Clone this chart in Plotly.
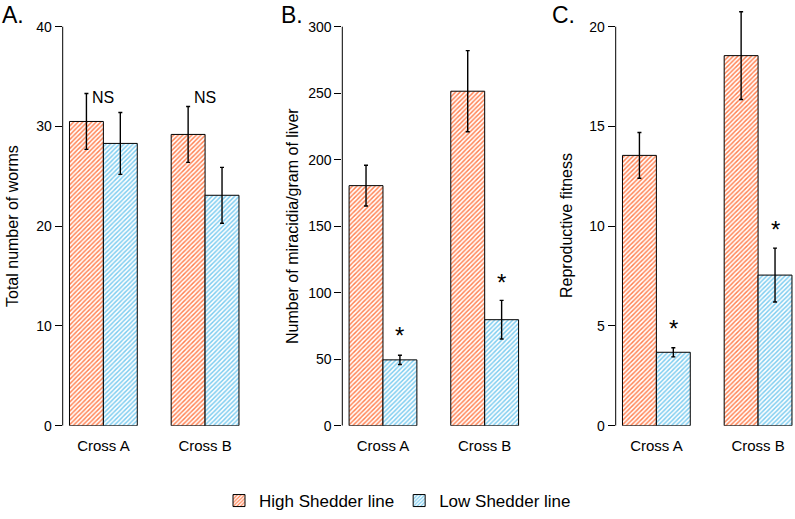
import plotly.graph_objects as go

# data
crosses = ["Cross A", "Cross B"]
worms_high = [30.5, 29.2]
worms_high_err = [2.8, 2.8]
worms_low = [28.3, 23.1]
worms_low_err = [3.1, 2.8]
mira_high = [180.5, 251.5]
mira_high_err = [15.3, 30.5]
mira_low = [49.5, 79.7]
mira_low_err = [3.5, 14.5]
fit_high = [13.55, 18.55]
fit_high_err = [1.15, 2.2]
fit_low = [3.68, 7.55]
fit_low_err = [0.23, 1.35]
worms_marks = ["NS", "NS"]
mira_marks = ["*", "*"]
fit_marks = ["*", "*"]

FONT = "Liberation Sans, Arial, sans-serif"
ORANGE = "#FF7F4F"
BLUE = "#7ACBEF"
W, H = 795, 519

panels = [
    dict(high=worms_high, high_err=worms_high_err, low=worms_low, low_err=worms_low_err,
         marks=worms_marks, mark_y=[32.9, 32.9], mark_on="group", ymax=40, dtick=10,
         title="Total number of worms", letter="A.", ax_px=62.7, right_px=246.3,
         title_px=13, letter_px=0),
    dict(high=mira_high, high_err=mira_high_err, low=mira_low, low_err=mira_low_err,
         marks=mira_marks, mark_y=[68, 108], mark_on="low", ymax=300, dtick=50,
         title="Number of miracidia/gram of liver", letter="B.", ax_px=342.3, right_px=525.4,
         title_px=293, letter_px=279),
    dict(high=fit_high, high_err=fit_high_err, low=fit_low, low_err=fit_low_err,
         marks=fit_marks, mark_y=[4.85, 9.85], mark_on="low", ymax=20, dtick=5,
         title="Reproductive fitness", letter="C.", ax_px=615.7, right_px=795,
         title_px=567, letter_px=550),
]

unit = 33.9  # px per bar width
y_top_px, y_zero_px = 26.7, 425.7

fig = go.Figure()
layout = dict()
annotations = []
shapes = []

for i, p in enumerate(panels):
    n = "" if i == 0 else str(i + 1)
    xa, ya = "x" + n, "y" + n
    first = i == 0
    fig.add_trace(go.Bar(
        x=crosses, y=p["high"], name="High Shedder line", xaxis=xa, yaxis=ya,
        legendgroup="high", showlegend=first,
        marker=dict(color="white", line=dict(color="black", width=1),
                    pattern=dict(shape="/", fgcolor=ORANGE, bgcolor="white",
                                 size=3.2, solidity=0.45, fillmode="replace")),
        error_y=dict(type="data", array=p["high_err"], color="black", thickness=1.4, width=2),
    ))
    fig.add_trace(go.Bar(
        x=crosses, y=p["low"], name="Low Shedder line", xaxis=xa, yaxis=ya,
        legendgroup="low", showlegend=first,
        marker=dict(color="white", line=dict(color="black", width=1),
                    pattern=dict(shape="/", fgcolor=BLUE, bgcolor="white",
                                 size=3.2, solidity=0.45, fillmode="replace")),
        error_y=dict(type="data", array=p["low_err"], color="black", thickness=1.4, width=2),
    ))

    px_per_val = (y_zero_px - y_top_px) / p["ymax"]
    y_range_top = p["ymax"] + (y_top_px - 10.7) / px_per_val
    x_left = -0.4
    x_right = x_left + (p["right_px"] - p["ax_px"]) / unit / 3

    layout["xaxis" + n] = dict(
        domain=[p["ax_px"] / W, p["right_px"] / W], anchor=ya, automargin=False,
        range=[x_left, x_right], showline=False, showgrid=False, zeroline=False,
        ticks="", ticklabelstandoff=9,
        tickfont=dict(family=FONT, size=15, color="black"), fixedrange=True,
    )
    layout["yaxis" + n] = dict(
        domain=[1 - y_zero_px / H, 1 - 10.7 / H], anchor=xa, automargin=False,
        range=[0, y_range_top], showline=False, showgrid=False, zeroline=False,
        tickmode="linear", tick0=0, dtick=p["dtick"], ticks="outside", ticklen=7,
        tickcolor="black", tickwidth=1, tickfont=dict(family=FONT, size=14, color="black"),
        fixedrange=True,
    )
    # y axis line from 0 to the top tick only
    shapes.append(dict(type="line", xref=xa + " domain", yref=ya, x0=0, x1=0,
                       y0=0, y1=p["ymax"], line=dict(color="black", width=1)))

    for j, c in enumerate(crosses):
        if p["mark_on"] == "group":
            annotations.append(dict(x=c, y=p["mark_y"][j], xref=xa, yref=ya, text=p["marks"][j],
                                    showarrow=False, font=dict(family=FONT, size=16, color="black"),
                                    yanchor="middle"))
        else:
            annotations.append(dict(x=c, y=p["mark_y"][j], xref=xa, yref=ya, text=p["marks"][j],
                                    xshift=unit / 2, showarrow=False,
                                    font=dict(family=FONT, size=24, color="black"),
                                    yanchor="middle"))

    annotations.append(dict(x=p["title_px"] / W, y=1 - 226 / H, xref="paper", yref="paper",
                            text=p["title"], textangle=-90, showarrow=False,
                            font=dict(family=FONT, size=16, color="black"),
                            xanchor="center", yanchor="middle"))
    annotations.append(dict(x=p["letter_px"] / W, y=1, xref="paper", yref="paper",
                            text=p["letter"], showarrow=False,
                            font=dict(family=FONT, size=23, color="black"),
                            xanchor="left", yanchor="top"))

fig.update_layout(
    **layout,
    template="none",
    width=W, height=H,
    margin=dict(l=0, r=0, t=0, b=0),
    paper_bgcolor="white", plot_bgcolor="white",
    barmode="group", bargap=1 / 3, bargroupgap=0,
    annotations=annotations, shapes=shapes,
    legend=dict(orientation="h", x=0.5, xanchor="center", y=0, yanchor="bottom",
                font=dict(family=FONT, size=17, color="black"), traceorder="normal"),
    showlegend=True,
)

fig.write_html("out.html", config={"displayModeBar": False},
               post_script="document.body.style.margin='0px';")
